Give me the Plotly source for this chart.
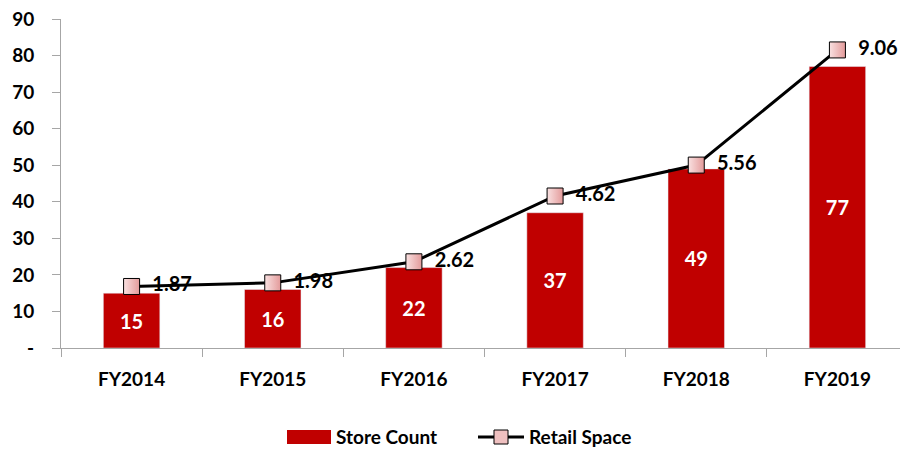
import plotly.graph_objects as go

years = ["FY2014", "FY2015", "FY2016", "FY2017", "FY2018", "FY2019"]
store_count = [15, 16, 22, 37, 49, 77]
retail_space = [1.87, 1.98, 2.62, 4.62, 5.56, 9.06]
y_ticks = [0, 10, 20, 30, 40, 50, 60, 70, 80, 90]
y_tick_text = ["-", "10", "20", "30", "40", "50", "60", "70", "80", "90"]

FONT = "Lato, Calibri, Arial, sans-serif"
BAR_COLOR = "#c00000"

# page has an 8px body margin; figure coordinates = screen - 8
W, H = 900, 444
L, T, R, B = 53, 11, 0, 104
PW, PH = W - L - R, H - T - B


def px(xs):
    return (xs - 8 - L) / PW


def py(ys):
    return -((ys - 8) - (H - B)) / PH


fig = go.Figure()
fig.add_trace(go.Bar(
    x=years, y=store_count, name="Store Count",
    marker=dict(color=BAR_COLOR),
    width=0.4,
    text=[str(v) for v in store_count],
    textposition="inside", insidetextanchor="middle",
    textfont=dict(color="white", size=20, family=FONT, weight="bold"),
    cliponaxis=False, showlegend=False,
))
fig.add_trace(go.Scatter(
    x=years, y=retail_space, name="Retail Space", yaxis="y2",
    mode="lines+markers+text",
    line=dict(color="black", width=3),
    marker=dict(symbol="square", size=16, color="#f9e1e1",
                gradient=dict(type="horizontal", color="#e39a9a"),
                line=dict(color="black", width=1)),
    text=["  " + f"{v:.2f}" for v in retail_space],
    textposition="middle right",
    textfont=dict(color="black", size=20, family=FONT, weight="bold"),
    cliponaxis=False, showlegend=False,
))

# custom legend (wide swatches like the reference), positions in screen px
shapes = [
    dict(type="rect", xref="paper", yref="paper", x0=px(287), x1=px(331),
         y0=py(430), y1=py(444), fillcolor=BAR_COLOR, line=dict(width=0)),
    dict(type="line", xref="paper", yref="paper", x0=px(478), x1=px(524),
         y0=py(437), y1=py(437), line=dict(color="black", width=3)),
    dict(type="rect", xref="paper", yref="paper", x0=px(494), x1=px(508),
         y0=py(430), y1=py(444), fillcolor="#efc0c0",
         line=dict(color="black", width=1)),
]
annotations = [
    dict(text="Store Count", xref="paper", yref="paper", x=px(334), y=py(437),
         xanchor="left", yanchor="middle", showarrow=False,
         font=dict(size=19, family=FONT, weight="bold", color="black")),
    dict(text="Retail Space", xref="paper", yref="paper", x=px(527), y=py(437),
         xanchor="left", yanchor="middle", showarrow=False,
         font=dict(size=19, family=FONT, weight="bold", color="black")),
]

fig.update_layout(
    width=W, height=H,
    margin=dict(l=L, r=R, t=T, b=B),
    plot_bgcolor="white", paper_bgcolor="white",
    font=dict(family=FONT, size=16, color="black"),
    showlegend=False,
    shapes=shapes, annotations=annotations,
    xaxis=dict(type="category", showline=True, linecolor="#a6a6a6", linewidth=1,
               ticks="outside", tickson="boundaries", ticklen=8, tickcolor="#a6a6a6",
               tickfont=dict(size=19, family=FONT, weight="bold"), showgrid=False,
               zeroline=False, automargin=False, ticklabelstandoff=14),
    yaxis=dict(range=[0, 90], tickvals=y_ticks, ticktext=y_tick_text,
               showline=True, linecolor="#a6a6a6", linewidth=1,
               ticks="outside", ticklen=8, tickcolor="#a6a6a6",
               tickfont=dict(size=19, family=FONT, weight="bold"),
               showgrid=False, zeroline=False, automargin=False, ticklabelstandoff=14,
               ticklabeloverflow="allow"),
    yaxis2=dict(range=[0, 10], overlaying="y", visible=False),
    bargap=0.6,
)

fig.write_html("out.html")
